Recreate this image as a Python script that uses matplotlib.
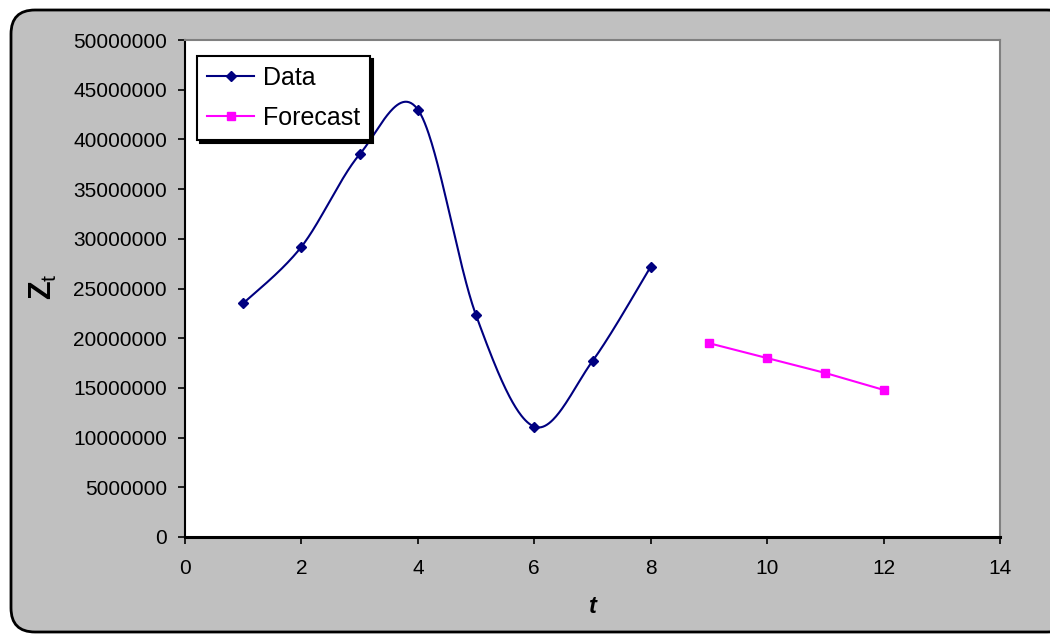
import numpy as np
import matplotlib
matplotlib.use("Agg")
import matplotlib.pyplot as plt
from matplotlib.patches import FancyBboxPatch

plt.rcParams['font.family'] = ['Liberation Sans', 'DejaVu Sans']
plt.rcParams['mathtext.fontset'] = 'custom'
plt.rcParams['mathtext.rm'] = 'Liberation Sans'
plt.rcParams['mathtext.it'] = 'Liberation Sans:italic'
plt.rcParams['mathtext.bf'] = 'Liberation Sans:bold'

# Observed series and forecast
t_data = [1, 2, 3, 4, 5, 6, 7, 8]
z_data = [23500000, 29200000, 38500000, 43000000, 22300000, 11100000, 17700000, 27200000]
t_fc = [9, 10, 11, 12]
z_fc = [19500000, 18000000, 16500000, 14800000]

x_ticks = [0, 2, 4, 6, 8, 10, 12, 14]
y_ticks = [0, 5000000, 10000000, 15000000, 20000000, 25000000,
           30000000, 35000000, 40000000, 45000000, 50000000]


def smooth_curve(xs, ys, n=60):
    """Spreadsheet-style smoothed line: cubic Bezier segments with
    Catmull-Rom control points (1/6 of the neighbour chord)."""
    p = np.column_stack([xs, ys]).astype(float)
    pts = []
    for i in range(len(p) - 1):
        p0 = p[i - 1] if i > 0 else p[i]
        p1 = p[i]
        p2 = p[i + 1]
        p3 = p[i + 2] if i + 2 < len(p) else p[i + 1]
        c1 = p1 + (p2 - p0) / 6.0
        c2 = p2 - (p3 - p1) / 6.0
        s = np.linspace(0, 1, n)[:, None]
        seg = ((1 - s) ** 3) * p1 + 3 * ((1 - s) ** 2) * s * c1 \
            + 3 * (1 - s) * s ** 2 * c2 + s ** 3 * p2
        pts.append(seg if i == 0 else seg[1:])
    out = np.vstack(pts)
    return out[:, 0], out[:, 1]


W, H = 1050, 634
fig = plt.figure(figsize=(W / 100, H / 100), dpi=100)
fig.patch.set_facecolor('white')

# Grey rounded chart background
bg = fig.add_axes([0, 0, 1, 1], zorder=0)
bg.set_xlim(0, W)
bg.set_ylim(H, 0)
bg.axis('off')
bg.add_patch(FancyBboxPatch((11, 10), 1060, 622,
                            boxstyle="round,pad=0,rounding_size=24",
                            facecolor='#C0C0C0', edgecolor='black',
                            linewidth=2.0))

left, right, top, bottom = 185, 1000, 40, 537
ax = fig.add_axes([left / W, 1 - bottom / H, (right - left) / W, (bottom - top) / H],
                  zorder=1)
ax.set_facecolor('white')

xs, ys = smooth_curve(t_data, z_data)
ax.plot(xs, ys, color='#000080', linewidth=1.5, zorder=3)
ax.plot(t_data, z_data, linestyle='none', marker='D', markersize=5,
        color='#000080', zorder=4)
data_handle, = ax.plot([], [], color='#000080', linewidth=1.5, marker='D',
                       markersize=5)
fc_handle, = ax.plot(t_fc, z_fc, color='#FF00FF', linewidth=1.5, marker='s',
                     markersize=6, zorder=3)

ax.set_xlim(0, 14)
ax.set_ylim(0, 50000000)
ax.set_xticks(x_ticks)
ax.set_xticklabels([str(v) for v in x_ticks])
ax.set_yticks(y_ticks)
ax.set_yticklabels([str(v) for v in y_ticks])
ax.tick_params(axis='both', direction='out', length=5, width=1.2,
               colors='black', labelsize=15)
ax.tick_params(axis='y', pad=8)
ax.tick_params(axis='x', pad=11)

for side in ('top', 'right'):
    ax.spines[side].set_color('#808080')
    ax.spines[side].set_linewidth(1.5)
ax.spines['left'].set_color('black')
ax.spines['left'].set_linewidth(1.5)
ax.spines['bottom'].set_color('black')
ax.spines['bottom'].set_linewidth(2.2)

ax.set_xlabel('t', fontsize=17, fontweight='bold', fontstyle='italic')
ax.xaxis.set_label_coords(0.5, -0.117)
ax.set_ylabel(r'$\mathbf{Z}_{\mathrm{t}}$', fontsize=22)
ax.yaxis.set_label_coords(-0.155, 0.503)

leg = ax.legend(handles=[data_handle, fc_handle], labels=['Data', 'Forecast'],
                loc='upper left', bbox_to_anchor=(0.0147, 0.968),
                borderaxespad=0, fontsize=18, frameon=True, fancybox=False,
                shadow={'color': 'black', 'alpha': 1, 'ox': 2, 'oy': -2},
                handlelength=1.9, handletextpad=0.35, borderpad=0.4,
                labelspacing=0.65)
leg.get_frame().set_edgecolor('black')
leg.get_frame().set_linewidth(1.5)
leg.get_frame().set_facecolor('white')

fig.savefig('out.png', dpi=100, facecolor='white')
